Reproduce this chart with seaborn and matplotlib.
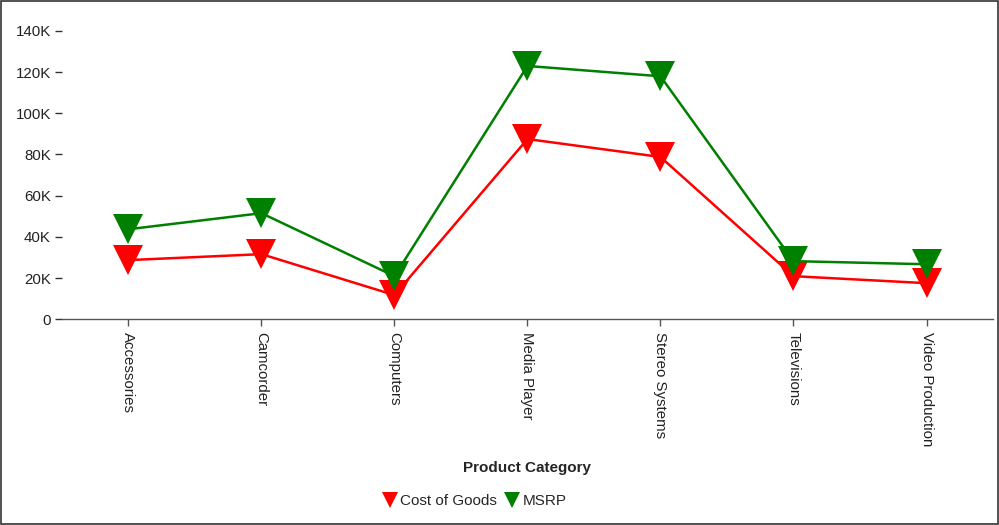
import pandas as pd
import seaborn as sns
import matplotlib.pyplot as plt
from matplotlib.patches import Rectangle
from matplotlib.ticker import FuncFormatter

categories = ["Accessories", "Camcorder", "Computers", "Media Player",
              "Stereo Systems", "Televisions", "Video Production"]
cost_of_goods = [28700, 31600, 11700, 87500, 78800, 20900, 17500]
msrp = [43700, 51500, 20900, 123000, 118000, 28200, 26700]
series_names = ["Cost of Goods", "MSRP"]
colors = ["#ff0000", "#008000"]

df = pd.DataFrame({
    "Product Category": categories * 2,
    "value": cost_of_goods + msrp,
    "series": [series_names[0]] * len(categories) + [series_names[1]] * len(categories),
})

sns.set_style("white")
plt.rcParams["font.family"] = ["Liberation Sans", "DejaVu Sans"]

fig = plt.figure(figsize=(9.99, 5.25), dpi=100)
ax = fig.add_axes([0.062, 0.392, 0.932, 0.549])

sns.lineplot(data=df, x="Product Category", y="value", hue="series",
             palette=colors, marker="v", markersize=21, markeredgewidth=0,
             linewidth=1.8, ax=ax, legend=False, clip_on=False)

ax.set_xlim(-0.5, len(categories) - 0.5)
ax.set_ylim(0, 140000)
ax.set_yticks(range(0, 140001, 20000))
ax.yaxis.set_major_formatter(FuncFormatter(lambda v, p: "0" if v == 0 else f"{int(v / 1000)}K"))

for s in ["top", "right", "left"]:
    ax.spines[s].set_visible(False)
ax.spines["bottom"].set_color("#555555")
ax.spines["bottom"].set_linewidth(1)

ax.tick_params(axis="y", left=True, length=5, width=1, color="#333333", pad=3,
               labelsize=10.8, labelcolor="#222222")
ax.tick_params(axis="x", bottom=True, length=5, width=1, color="#555555", pad=4,
               labelsize=10.8, labelcolor="#222222")
ax.set_xticks(range(len(categories)))
ax.set_xticklabels(categories, rotation=270, va="top", ha="center")
ax.set_ylabel("")
ax.set_xlabel("Product Category", fontsize=11, fontweight="bold", labelpad=11)

# legend
handles = [plt.Line2D([], [], linestyle="none", marker="v", markersize=12,
                      color=c, markeredgewidth=0) for c in colors]
fig.legend(handles, series_names, loc="center", bbox_to_anchor=(0.475, 0.045),
           ncol=2, frameon=False, fontsize=11, handletextpad=0.2,
           columnspacing=0.5, handlelength=1.0)

# outer border
fig.patches.append(Rectangle((0.001, 0.002), 0.998, 0.996, transform=fig.transFigure,
                             fill=False, edgecolor="#333333", linewidth=1.2))

fig.savefig("out.png", dpi=100)
